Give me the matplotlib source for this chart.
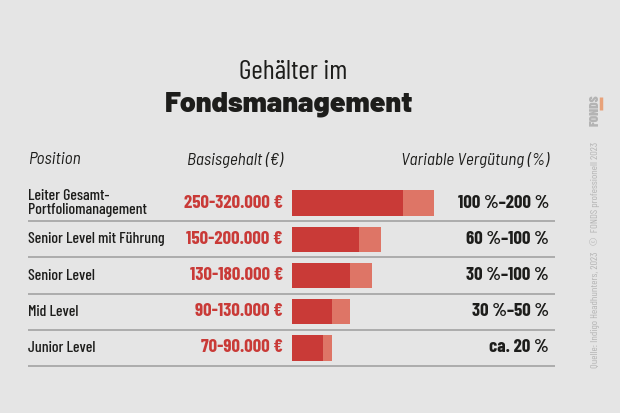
import matplotlib
matplotlib.use("Agg")
import matplotlib.pyplot as plt

# salary data (thousand euro)
positions = ["Leiter Gesamt-\nPortfoliomanagement", "Senior Level mit Führung",
             "Senior Level", "Mid Level", "Junior Level"]
salary_min = [250, 150, 130, 90, 70]
salary_max = [320, 200, 180, 130, 90]
salary_labels = ["250-320.000 €", "150-200.000 €", "130-180.000 €",
                 "90-130.000 €", "70-90.000 €"]
variable_labels = ["100 %–200 %", "60 %–100 %", "30 %–100 %", "30 %–50 %", "ca. 20 %"]

BG = "#e5e5e5"
DARK = "#c93a37"
LIGHT = "#de7566"
TXT = "#1d1d1b"
COND = ["Barlow Condensed", "DejaVu Sans"]
SEMI = ["Barlow Semi Condensed", "DejaVu Sans"]
WIDE = ["Barlow", "DejaVu Sans"]

W, H = 620, 413
fig = plt.figure(figsize=(W / 100, H / 100), dpi=100, facecolor=BG)

# overlay axes in pixel coordinates for the text layout
ov = fig.add_axes([0, 0, 1, 1])
ov.set_xlim(0, W)
ov.set_ylim(H, 0)
ov.axis("off")

# bar axes: rows centred at 203 px, 36.25 px apart; 0.444 px per thousand euro
row_h = 36.25
top_px = 203 - row_h / 2
bot_px = top_px + row_h * 5
left_px = 292
px_per_k = 0.444
ax_w = 200
ax = fig.add_axes([left_px / W, (H - bot_px) / H, ax_w / W, (bot_px - top_px) / H])
ax.set_xlim(0, ax_w / px_per_k)
ax.set_ylim(4.5, -0.5)
ax.axis("off")
rows = list(range(len(positions)))
ax.barh(rows, salary_max, height=0.69, color=LIGHT, left=0)
ax.barh(rows, salary_min, height=0.69, color=DARK, left=0)

# title
ov.text(293, 72, "Gehälter im", ha="center", va="center", fontsize=20,
        family=COND, color=TXT)
ov.text(289, 104, "Fondsmanagement", ha="center", va="center", fontsize=20.5,
        fontweight="black", family=WIDE, color=TXT)

# header
ov.text(28, 160, "Position", ha="left", va="center", fontsize=12.3,
        style="italic", family=SEMI, color=TXT)
ov.text(283, 160, "Basisgehalt (€)", ha="right", va="center", fontsize=12.3,
        style="italic", family=SEMI, color=TXT)
ov.text(549, 160, "Variable Vergütung (%)", ha="right", va="center", fontsize=12.3,
        style="italic", family=SEMI, color=TXT)

for i in rows:
    y = 203 + i * row_h
    ov.text(28, y, positions[i], ha="left", va="center", fontsize=11.4,
            fontweight="medium", family=COND, color=TXT, linespacing=0.95)
    ov.text(283, y, salary_labels[i], ha="right", va="center", fontsize=13.5,
            fontweight="bold", family=COND, color=DARK)
    ov.text(549, y, variable_labels[i], ha="right", va="center", fontsize=13.5,
            fontweight="bold", family=COND, color=TXT)
    ly = y + row_h / 2
    ov.plot([28, 555], [ly, ly], color="#a8a8a8", lw=1.3, solid_capstyle="butt")

# side credit
ov.text(595, 368, "Quelle: Indigo Headhunters, 2023   ©  FONDS professionell 2023",
        rotation=90, ha="center", va="bottom", fontsize=7.5, family=COND,
        color="#b4b4b4")
ov.plot([600.5, 600.5], [97, 110], color="#e8a27a", lw=2.5, solid_capstyle="butt")
ov.text(595.5, 94, "FONDS", rotation=90, ha="center", va="top", fontsize=9.5,
        fontweight="black", family=COND, color="#b4b4b4")

fig.savefig("out.png", dpi=100, facecolor=BG)
